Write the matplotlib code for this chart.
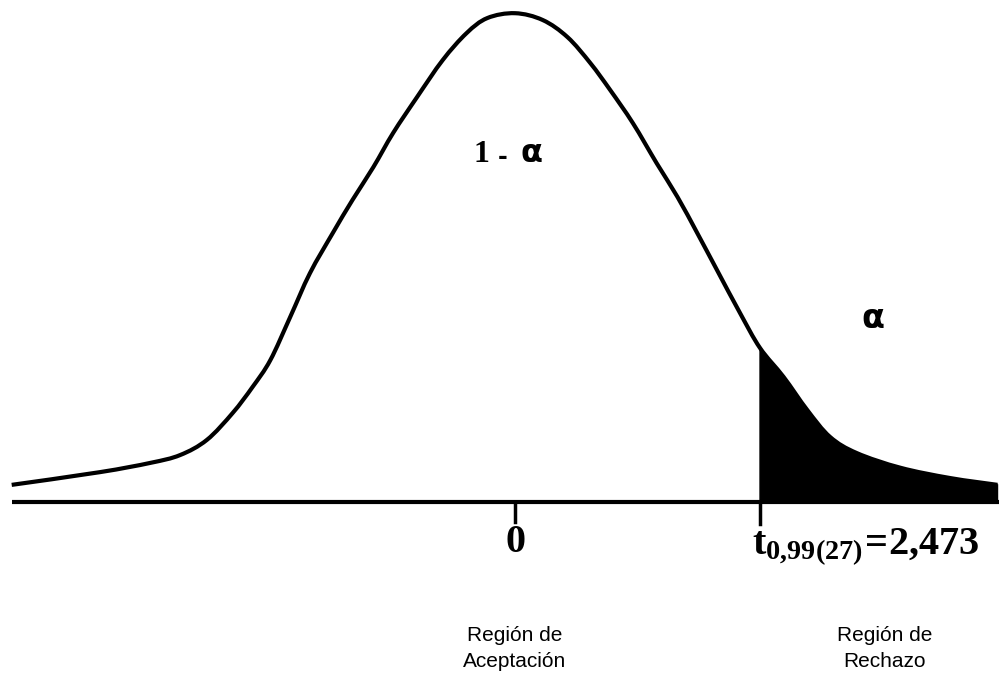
import matplotlib
matplotlib.use("Agg")
import matplotlib.pyplot as plt
from matplotlib.path import Path
from matplotlib.patches import PathPatch
import numpy as np

# Curve: t value and relative height (peak = 1)
t_vals = [-5.08, -4.19, -3.68, -3.38, -3.11, -2.85, -2.65, -2.47, -2.27, -2.07,
          -1.84, -1.64, -1.43, -1.23, -0.99, -0.73, -0.49, -0.28, 0.0,
          0.28, 0.53, 0.76, 0.96, 1.19, 1.43, 1.64, 1.84, 2.04, 2.27, 2.473,
          2.71, 2.95, 3.18, 3.45, 3.89, 4.39, 4.87]
heights = [0.035, 0.061, 0.080, 0.096, 0.127, 0.182, 0.235, 0.290, 0.378, 0.468,
           0.550, 0.618, 0.685, 0.755, 0.828, 0.904, 0.959, 0.990, 1.000,
           0.986, 0.951, 0.898, 0.843, 0.775, 0.693, 0.624, 0.550, 0.474, 0.387, 0.315,
           0.256, 0.188, 0.133, 0.100, 0.070, 0.049, 0.035]
t_crit = 2.473
crit_label = r"$\mathbf{t_{0{,}99(27)}\!=\!2{,}473}$"
accept_label = "Región de\nAceptación"
reject_label = "Región de\nRechazo"

plt.rcParams["mathtext.fontset"] = "custom"
plt.rcParams["mathtext.bf"] = "Liberation Serif:bold"
plt.rcParams["mathtext.rm"] = "Liberation Serif"


def smooth_path(xs, ys, close_to_base=False):
    """Catmull-Rom style bezier path through the points."""
    pts = np.column_stack([xs, ys])
    verts = [pts[0]]
    codes = [Path.MOVETO]
    for i in range(len(pts) - 1):
        p0 = pts[i - 1] if i > 0 else pts[i]
        p1, p2 = pts[i], pts[i + 1]
        p3 = pts[i + 2] if i + 2 < len(pts) else pts[i + 1]
        verts += [p1 + (p2 - p0) / 6, p2 - (p3 - p1) / 6, p2]
        codes += [Path.CURVE4] * 3
    if close_to_base:
        verts += [(xs[-1], 0), (xs[0], 0), pts[0]]
        codes += [Path.LINETO, Path.LINETO, Path.CLOSEPOLY]
    return Path(verts, codes)


fig = plt.figure(figsize=(9.99, 6.75), dpi=100)
ax = fig.add_axes([0, 0, 1, 1])
ax.set_xlim(-5.198, 4.885)
ax.set_ylim(-0.354, 1.027)
ax.axis("off")

t = np.array(t_vals)
h = np.array(heights)
k = t_vals.index(t_crit)

# shaded rejection tail, then the curve
ax.add_patch(PathPatch(smooth_path(t[k:], h[k:], close_to_base=True),
                       facecolor="black", edgecolor="black", lw=1))
ax.add_patch(PathPatch(smooth_path(t, h), facecolor="none", edgecolor="black",
                       lw=3.0, capstyle="butt"))

# baseline and ticks
ax.plot([-5.08, 4.885], [0, 0], color="black", lw=3.0, solid_capstyle="butt")
ax.plot([0, 0], [0, -0.04], color="black", lw=2.5)
ax.plot([t_crit, t_crit], [0, -0.045], color="black", lw=2.5)

ax.text(0, -0.082, "0", ha="center", va="center", fontsize=29,
        family="Liberation Serif", weight="bold")
ax.text(2.39, -0.108, crit_label, ha="left", va="baseline", fontsize=29)

# area labels
ax.text(-0.34, 0.71, "1", ha="center", va="center", fontsize=23,
        family="Liberation Serif", weight="bold")
ax.text(-0.12, 0.706, "-", ha="center", va="center", fontsize=17,
        family="DejaVu Sans", weight="bold")
ax.text(0.17, 0.712, "α", ha="center", va="center", fontsize=23,
        family="DejaVu Sans", weight="bold")
ax.text(3.61, 0.375, "α", ha="center", va="center", fontsize=24,
        family="DejaVu Sans", weight="bold")

# region labels
ax.text(0, -0.300, accept_label, ha="center", va="center", fontsize=15,
        family="Liberation Sans", linespacing=1.5)
ax.text(3.73, -0.300, reject_label, ha="center", va="center", fontsize=15,
        family="Liberation Sans", linespacing=1.5)

fig.savefig("out.png", dpi=100)
